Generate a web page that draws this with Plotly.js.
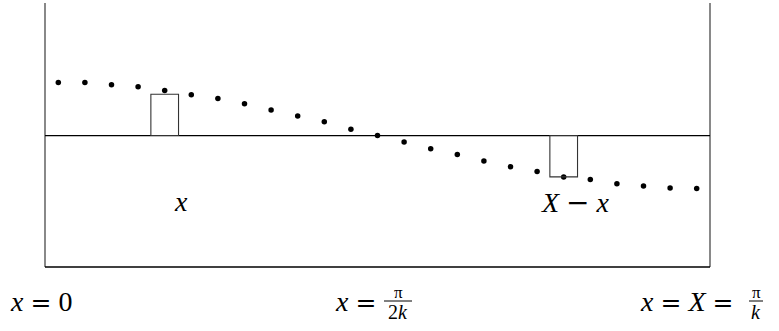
<!DOCTYPE html>
<html>
<head>
<meta charset="utf-8">
<script src="https://cdn.plot.ly/plotly-3.0.1.min.js"></script>
<style>html,body{margin:0;padding:0;background:#fff;}#chart{width:779px;height:331px;}</style>
</head>
<body>
<div id="chart"></div>
<script>
// Sample index along the string (0 .. X)
const sampleIndex = [0,1,2,3,4,5,6,7,8,9,10,11,12,13,14,15,16,17,18,19,20,21,22,23,24];
// Displacement of each sample
const displacement = [1.00,1.00,0.96,0.92,0.85,0.77,0.70,0.60,0.48,0.37,0.26,0.12,0.00,-0.12,-0.25,-0.36,-0.48,-0.59,-0.68,-0.78,-0.83,-0.91,-0.95,-0.99,-1.00];
// Element boxes: centre index and signed height
const boxCentres = [4, 19];
const boxHeights = [0.78, -0.78];
const boxLabels = ['<i>x</i>', '<i>X</i> <span style="font-family:DejaVu Serif">−</span> <i>x</i>'];

const FONT = 'Liberation Serif, DejaVu Serif, serif';
const EQ = '<span style="font-family:DejaVu Serif;font-size:25px">=</span>';
const fnt = (s)=>({family:FONT, size:s, color:'#000'});

const shapes = [
  {type:'line', xref:'paper', yref:'paper', x0:0, x1:0, y0:0, y1:1, line:{color:'#6b6b6b', width:1.6}},
  {type:'line', xref:'paper', yref:'paper', x0:1, x1:1, y0:0, y1:1, line:{color:'#6b6b6b', width:1.6}},
  {type:'line', xref:'paper', yref:'paper', x0:0, x1:1, y0:0, y1:0, line:{color:'#000', width:1.6}},
  {type:'line', xref:'paper', yref:'y', x0:0, x1:1, y0:0, y1:0, line:{color:'#000', width:1.3}}
];
boxCentres.forEach((c,i)=>{
  shapes.push({type:'rect', xref:'x', yref:'y', x0:c-0.52, x1:c+0.52, y0:0, y1:boxHeights[i], line:{color:'#333', width:1.1}, fillcolor:'rgba(0,0,0,0)'});
});
const annotations = [];
const ann = (o)=>annotations.push(Object.assign({showarrow:false, xanchor:'center', yanchor:'middle'}, o));
ann({x:4.6, y:-1.24, xref:'x', yref:'y', text:boxLabels[0], font:fnt(28)});
ann({x:(539-45)/665, xanchor:'left', y:-1.27, xref:'paper', yref:'y', text:boxLabels[1], font:fnt(28)});

const P = (px)=>(px-45)/665;      // horizontal placement helper for text outside the frame
const Q = (py)=>(267-py)/264;     // vertical placement helper for text below the frame
const LBL_Y = Q(301);
ann({x:P(8), xanchor:'left', y:LBL_Y, xref:'paper', yref:'paper', text:'<i>x</i> '+EQ+' 0', font:fnt(28)});
ann({x:P(333), xanchor:'left', y:LBL_Y, xref:'paper', yref:'paper', text:'<i>x</i> '+EQ, font:fnt(28)});
ann({x:P(398), y:Q(292), xref:'paper', yref:'paper', text:'π', font:fnt(17)});
ann({x:P(398), y:Q(312), xref:'paper', yref:'paper', text:'2<i>k</i>', font:fnt(20)});
ann({x:P(638), xanchor:'left', y:LBL_Y, xref:'paper', yref:'paper', text:'<i>x</i> '+EQ+' <i>X</i> '+EQ, font:fnt(28)});
ann({x:P(756), y:Q(292), xref:'paper', yref:'paper', text:'π', font:fnt(17)});
ann({x:P(756), y:Q(312), xref:'paper', yref:'paper', text:'<i>k</i>', font:fnt(20)});
shapes.push({type:'line', xref:'paper', yref:'paper', x0:P(384), x1:P(412), y0:Q(301), y1:Q(301), line:{color:'#000', width:1}});
shapes.push({type:'line', xref:'paper', yref:'paper', x0:P(749), x1:P(763), y0:Q(301), y1:Q(301), line:{color:'#000', width:1}});

Plotly.newPlot('chart', [{
  x: sampleIndex, y: displacement, type:'scatter', mode:'markers',
  marker:{color:'#000', size:5.5}, cliponaxis:false, hoverinfo:'skip'
}], {
  width:779, height:331,
  margin:{l:45, r:69, t:3, b:64, pad:0},
  paper_bgcolor:'#fff', plot_bgcolor:'#fff',
  showlegend:false,
  xaxis:{range:[-0.5,24.5], visible:false, fixedrange:true},
  yaxis:{range:[-2.48,2.50], visible:false, fixedrange:true},
  shapes: shapes,
  annotations: annotations
}, {staticPlot:true, displayModeBar:false});
</script>
</body>
</html>
